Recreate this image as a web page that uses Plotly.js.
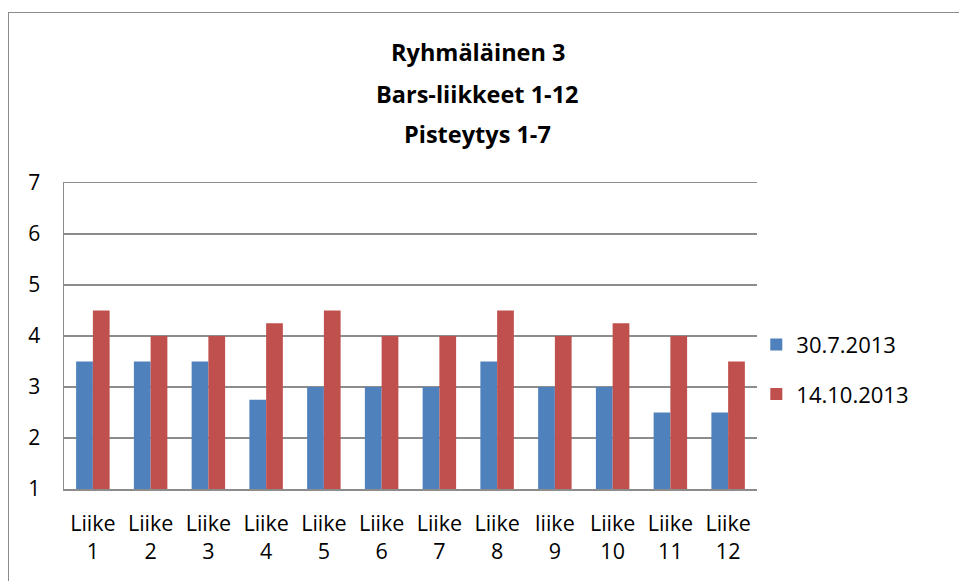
<!DOCTYPE html>
<html>
<head>
<meta charset="utf-8">
<script src="https://cdn.plot.ly/plotly-3.0.1.min.js"></script>
<style>
  html, body { margin: 0; padding: 0; background: #fff; }
  #frame { position: absolute; left: 8px; top: 12px; width: 1000px; height: 1000px; border: 1.5px solid #8c8c8c; box-sizing: border-box; }
  #chart { position: absolute; left: 0; top: 0; width: 959px; height: 581px; }
</style>
</head>
<body>
<div id="frame"></div>
<div id="chart"></div>
<script>
const categories = ["Liike<br>1","Liike<br>2","Liike<br>3","Liike<br>4","Liike<br>5","Liike<br>6","Liike<br>7","Liike<br>8","liike<br>9","Liike<br>10","Liike<br>11","Liike<br>12"];
const seriesNames = ["30.7.2013", "14.10.2013"];
const series1 = [3.5, 3.5, 3.5, 2.75, 3, 3, 3, 3.5, 3, 3, 2.5, 2.5];
const series2 = [4.5, 4, 4, 4.25, 4.5, 4, 4, 4.5, 4, 4.25, 4, 3.5];
const titleLines = ["Ryhmäläinen 3", "Bars-liikkeet 1-12", "Pisteytys 1-7"];
const yTicks = [1, 2, 3, 4, 5, 6, 7];

const FONT = "Open Sans, Noto Sans, sans-serif";

const traces = [
  { type: "bar", name: seriesNames[0], x: categories, y: series1, marker: { color: "#4F81BD" }, legendgroup: "a" },
  { type: "bar", name: seriesNames[1], x: categories, y: series2, marker: { color: "#C0504D" }, legendgroup: "b" }
];

const titleY = [1.428, 1.291, 1.160];
const annotations = titleLines.map((t, i) => ({
  text: "<b>" + t + "</b>", xref: "paper", yref: "paper", x: 0.597, y: titleY[i],
  xanchor: "center", yanchor: "middle", showarrow: false,
  font: { family: FONT, size: 23.5, color: "#000" }
}));

const layout = {
  width: 959, height: 581,
  margin: { l: 64, r: 202, t: 183, b: 92 },
  paper_bgcolor: "rgba(0,0,0,0)",
  plot_bgcolor: "rgba(0,0,0,0)",
  barmode: "group",
  bargap: 0.42,
  bargroupgap: 0,
  font: { family: FONT, size: 21, color: "#000" },
  annotations: annotations,
  xaxis: {
    showline: true, linecolor: "#8c8c8c", linewidth: 1.5, mirror: true,
    ticks: "outside", ticklen: 15, tickcolor: "rgba(0,0,0,0)",
    tickfont: { family: FONT, size: 21.5, color: "#000" },
    showgrid: false, fixedrange: true
  },
  yaxis: {
    range: [1, 7], tickvals: yTicks,
    showline: true, linecolor: "#8c8c8c", linewidth: 1.5,
    showgrid: true, gridcolor: "#8c8c8c", gridwidth: 1.5,
    zeroline: false,
    ticks: "outside", ticklen: 18, tickcolor: "rgba(0,0,0,0)",
    tickfont: { family: FONT, size: 21, color: "#000" },
    fixedrange: true
  },
  legend: {
    x: 0.999, y: 0.39, xanchor: "left", yanchor: "middle",
    font: { family: FONT, size: 22, color: "#000" },
    traceorder: "grouped", tracegroupgap: 18,
    itemwidth: 30
  },
  showlegend: true
};

Plotly.newPlot("chart", traces, layout, { displayModeBar: false, staticPlot: true });
</script>
</body>
</html>
